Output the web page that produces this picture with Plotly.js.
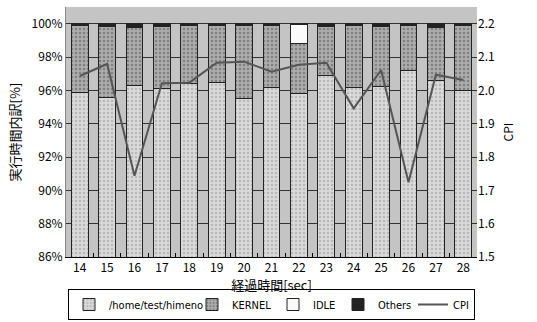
<!DOCTYPE html>
<html><head><meta charset="utf-8">
<script src="https://cdn.plot.ly/plotly-3.0.1.min.js"></script>
<style>body{margin:0;background:#fff}#c{width:537px;height:322px}</style>
</head><body><div id="c"></div>
<script>
const categories = ['14','15','16','17','18','19','20','21','22','23','24','25','26','27','28'];
const himeno = [95.9,95.6,96.3,96.1,96.4,96.5,95.5,96.2,95.8,96.9,96.2,96.25,97.2,96.6,96.0];
const idle   = [0,0,0,0,0,0,0,0,1.15,0,0,0,0,0,0];
const others = [0.1,0.15,0.2,0.15,0.1,0.1,0.1,0.1,0.05,0.15,0.1,0.15,0.1,0.2,0.1];
const kernel = himeno.map((h,i)=> +(100 - h - idle[i] - others[i]).toFixed(2));
const cpi = [2.043,2.079,1.744,2.021,2.023,2.083,2.086,2.056,2.077,2.083,1.946,2.061,1.724,2.047,2.031];
const leftTicks = [86,88,90,92,94,96,98,100];
const rightTicks = [1.5,1.6,1.7,1.8,1.9,2.0,2.1,2.2];

const F = '"Noto Sans CJK JP", "DejaVu Sans", sans-serif';
const N = '"Liberation Sans Narrow", "DejaVu Sans Condensed", "Noto Sans CJK JP", sans-serif';
const outline = {color:'#222', width:1};
const traces = [
  {type:'bar', name:'/home/test/himeno', x:categories, y:himeno, legendwidth:78,
   marker:{color:'#d6d6d6', line:outline, pattern:{shape:'.', fgcolor:'#b8b8b8', bgcolor:'#dadada', size:4, solidity:0.3}}},
  {type:'bar', name:'KERNEL', x:categories, y:kernel, legendwidth:36,
   marker:{color:'#a4a4a4', line:outline, pattern:{shape:'.', fgcolor:'#808080', bgcolor:'#acacac', size:4, solidity:0.3}}},
  {type:'bar', name:'IDLE', x:categories, y:idle, legendwidth:20,
   marker:{color:'#fafafa', line:outline}},
  {type:'bar', name:'Others', x:categories, y:others, legendwidth:30,
   marker:{color:'#222', line:outline}},
  {type:'scatter', mode:'lines', name:'CPI', x:categories, y:cpi, yaxis:'y2', legendwidth:16,
   line:{color:'#555', width:2}}
];
const layout = {
  width:537, height:322,
  margin:{l:66, r:60, t:7, b:65, autoexpand:false},
  paper_bgcolor:'#fff', plot_bgcolor:'#c4c4c4',
  font:{family:F, size:12, color:'#000'},
  barmode:'stack', bargap:0.38,
  showlegend:true,
  legend:{orientation:'h', x:0.5, xanchor:'center', y:-0.252, yanchor:'bottom',
    bordercolor:'#000', borderwidth:1, font:{size:11, family:N}, traceorder:'normal',
    itemwidth:30, tracegroupgap:0},
  xaxis:{type:'category', tickson:'boundaries', ticks:'inside', ticklen:4, tickcolor:'#000',
    showgrid:false, showline:true, linecolor:'#000', mirror:false, automargin:false,
    title:{text:'経過時間[sec]', font:{size:13, family:F}, standoff:4},
    tickfont:{size:12}},
  yaxis:{range:[86,101], tickvals:leftTicks, ticktext:leftTicks.map(v=>v+'%'),
    showgrid:true, gridcolor:'#333', gridwidth:1, zeroline:false, automargin:false,
    showline:true, linecolor:'#888', ticks:'',
    title:{text:'実行時間内訳[%]', font:{size:13, family:F}, standoff:8}},
  yaxis2:{overlaying:'y', side:'right', range:[1.5,2.25], tickvals:rightTicks,
    ticktext:rightTicks.map(v=>v.toFixed(1)), showgrid:false, zeroline:false, automargin:false,
    showline:false, ticks:'',
    title:{text:'CPI', font:{size:12, family:F}, standoff:10}}
};
Plotly.newPlot('c', traces, layout, {displayModeBar:false, staticPlot:true});
</script></body></html>
